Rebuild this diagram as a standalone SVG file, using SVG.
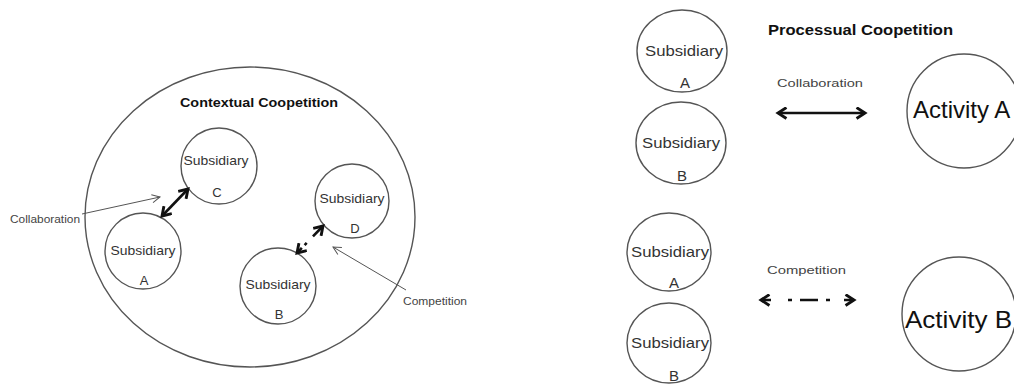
<svg xmlns="http://www.w3.org/2000/svg" width="1014" height="385" viewBox="0 0 1014 385">
  <style>
    .ring { fill: #fff; stroke: #555; stroke-width: 1.4; }
    .lbl { font-family: "Liberation Sans", Arial, sans-serif; fill: #333; text-anchor: middle; }
    .sub { font-size: 13px; }
    .title { font-family: "Liberation Sans", Arial, sans-serif; font-weight: bold; font-size: 13px; fill: #111; }
    .note { font-family: "Liberation Sans", Arial, sans-serif; font-size: 10px; fill: #444; }
    .act { font-family: "Liberation Sans", Arial, sans-serif; font-size: 24px; fill: #111; }
    .thick { fill: none; stroke: #111; stroke-width: 2.6; }
    .thin { fill: none; stroke: #555; stroke-width: 1; }
  </style>
  <defs>
    <marker id="bold-head" viewBox="0 0 10 10" refX="8" refY="5" markerWidth="5" markerHeight="5" orient="auto-start-reverse" markerUnits="strokeWidth">
      <path d="M1.5,0.8 L8,5 L1.5,9.2" fill="none" stroke="#111" stroke-width="2.2" stroke-linejoin="miter"/>
    </marker>
    <marker id="open-head" viewBox="0 0 10 10" refX="9" refY="5" markerWidth="10" markerHeight="10" orient="auto" markerUnits="userSpaceOnUse">
      <path d="M1,1 L9,5 L1,9" fill="none" stroke="#555" stroke-width="1"/>
    </marker>
  </defs>

  <!-- Contextual coopetition -->
  <g id="context">
    <ellipse class="ring" cx="250" cy="217" rx="165" ry="150"/>
    <text class="title" x="180" y="107" textLength="158" lengthAdjust="spacingAndGlyphs">Contextual Coopetition</text>
  </g>
  <g id="ctx-sub-c">
    <circle class="ring" cx="219" cy="166" r="38"/>
    <text class="lbl sub" x="216" y="165" textLength="65" lengthAdjust="spacingAndGlyphs">Subsidiary</text>
    <text class="lbl sub" x="217" y="197">C</text>
  </g>
  <g id="ctx-sub-a">
    <circle class="ring" cx="143" cy="251" r="38"/>
    <text class="lbl sub" x="143" y="255" textLength="65" lengthAdjust="spacingAndGlyphs">Subsidiary</text>
    <text class="lbl sub" x="144" y="285">A</text>
  </g>
  <g id="ctx-sub-d">
    <circle class="ring" cx="352" cy="201" r="37"/>
    <text class="lbl sub" x="352" y="203" textLength="65" lengthAdjust="spacingAndGlyphs">Subsidiary</text>
    <text class="lbl sub" x="355" y="233">D</text>
  </g>
  <g id="ctx-sub-b">
    <circle class="ring" cx="278" cy="286" r="38"/>
    <text class="lbl sub" x="278" y="289" textLength="65" lengthAdjust="spacingAndGlyphs">Subsidiary</text>
    <text class="lbl sub" x="279" y="319">B</text>
  </g>
  <g id="ctx-notes">
    <text class="note" x="10" y="223" textLength="70" lengthAdjust="spacingAndGlyphs">Collaboration</text>
    <text class="note" x="403" y="305" textLength="64" lengthAdjust="spacingAndGlyphs">Competition</text>
  </g>

  <!-- Processual coopetition -->
  <g id="process">
    <text class="title" x="768" y="35" textLength="185" lengthAdjust="spacingAndGlyphs" style="font-size:14px">Processual Coopetition</text>
  </g>
  <g id="proc-sub-a1">
    <ellipse class="ring" cx="682" cy="51" rx="45" ry="41"/>
    <text class="lbl sub" x="684" y="56" textLength="78" lengthAdjust="spacingAndGlyphs" style="font-size:15px">Subsidiary</text>
    <text class="lbl sub" x="685" y="88" style="font-size:15px">A</text>
  </g>
  <g id="proc-sub-b1">
    <ellipse class="ring" cx="681" cy="143" rx="45" ry="41"/>
    <text class="lbl sub" x="681" y="148" textLength="78" lengthAdjust="spacingAndGlyphs" style="font-size:15px">Subsidiary</text>
    <text class="lbl sub" x="682" y="181" style="font-size:15px">B</text>
  </g>
  <g id="activity-a">
    <circle class="ring" cx="964" cy="111" r="57"/>
    <text class="act" x="913" y="118">Activity A</text>
  </g>
  <g id="proc-sub-a2">
    <ellipse class="ring" cx="669" cy="252" rx="42" ry="39"/>
    <text class="lbl sub" x="670" y="257" textLength="78" lengthAdjust="spacingAndGlyphs" style="font-size:15px">Subsidiary</text>
    <text class="lbl sub" x="674" y="288" style="font-size:15px">A</text>
  </g>
  <g id="proc-sub-b2">
    <ellipse class="ring" cx="669" cy="343" rx="42" ry="40"/>
    <text class="lbl sub" x="670" y="348" textLength="78" lengthAdjust="spacingAndGlyphs" style="font-size:15px">Subsidiary</text>
    <text class="lbl sub" x="674" y="381" style="font-size:15px">B</text>
  </g>
  <g id="activity-b">
    <circle class="ring" cx="959" cy="314" r="57"/>
    <text class="act" x="905" y="328" textLength="107" lengthAdjust="spacingAndGlyphs">Activity B</text>
  </g>
  <g id="proc-notes">
    <text class="note" x="777" y="87" style="font-size:11px" textLength="86" lengthAdjust="spacingAndGlyphs">Collaboration</text>
    <text class="note" x="767" y="274" style="font-size:11px" textLength="79" lengthAdjust="spacingAndGlyphs">Competition</text>
  </g>

  <!-- Connectors -->
  <g id="connectors">
    <line class="thick" x1="162" y1="216" x2="188" y2="189" marker-start="url(#bold-head)" marker-end="url(#bold-head)"/>
    <line class="thick" x1="297" y1="253" x2="323" y2="226" stroke-dasharray="7 4 3 9 16" marker-start="url(#bold-head)" marker-end="url(#bold-head)"/>
    <line class="thin" x1="82" y1="214" x2="160" y2="197" marker-end="url(#open-head)"/>
    <line class="thin" x1="406" y1="290" x2="333" y2="247" marker-end="url(#open-head)"/>
    <line class="thick" x1="778" y1="113" x2="865" y2="113" stroke-width="3" marker-start="url(#bold-head)" marker-end="url(#bold-head)"/>
    <line class="thick" x1="761" y1="300" x2="854" y2="300" stroke-width="3" stroke-dasharray="10 17 4 8 18 8 4 14 10" marker-start="url(#bold-head)" marker-end="url(#bold-head)"/>
  </g>
</svg>
